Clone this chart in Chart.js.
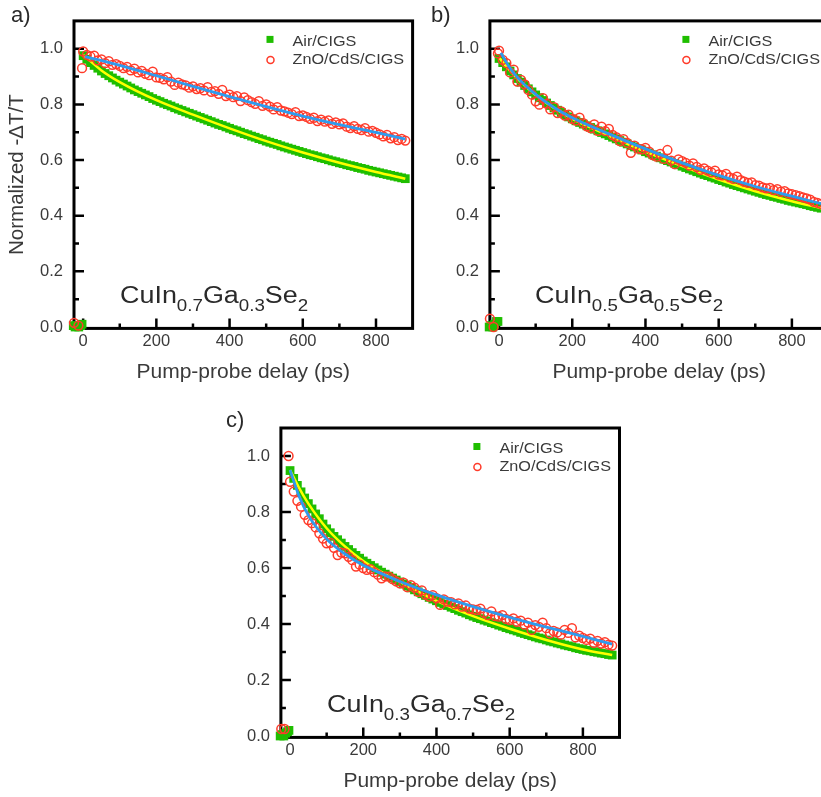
<!DOCTYPE html>
<html>
<head>
<meta charset="utf-8">
<script src="https://cdn.jsdelivr.net/npm/chart.js@4.4.0/dist/chart.umd.min.js"></script>
<style>
  html, body { margin: 0; padding: 0; background: #fff; overflow: hidden; width: 821px; height: 797px; }
  body { position: relative; font-family: "Liberation Sans", Arial, sans-serif; color: #2a2a2a; }
  canvas { position: absolute; }
  .tag { position: absolute; font-size: 22px; line-height: 1; }
  .formula { position: absolute; font-size: 23px; line-height: 1; white-space: nowrap; transform-origin: 0 0; transform: scaleX(1.17); }
  .formula sub { font-size: 16px; vertical-align: -8px; line-height: 0; }
</style>
</head>
<body>
<canvas id="chartA" width="420" height="404" style="left:0px;top:0px"></canvas>
<canvas id="chartB" width="420" height="404" style="left:420px;top:0px"></canvas>
<canvas id="chartC" width="420" height="404" style="left:210px;top:400px"></canvas>

<div class="tag" style="left:11px;top:4px">a)</div>
<div class="tag" style="left:431px;top:4px">b)</div>
<div class="tag" style="left:226px;top:409px">c)</div>

<div class="formula" style="left:120px;top:284px">CuIn<sub>0.7</sub>Ga<sub>0.3</sub>Se<sub>2</sub></div>
<div class="formula" style="left:535px;top:284px">CuIn<sub>0.5</sub>Ga<sub>0.5</sub>Se<sub>2</sub></div>
<div class="formula" style="left:327px;top:693px">CuIn<sub>0.3</sub>Ga<sub>0.7</sub>Se<sub>2</sub></div>

<script>
// ---- data ----
const xTicks = [0, 200, 400, 600, 800];
const xMinor = [100, 300, 500, 700];
const yTicks = [0, 0.2, 0.4, 0.6, 0.8, 1.0];
const yMinor = [0.1, 0.3, 0.5, 0.7, 0.9];

// sampling delays (ps) of the measured traces
const delays = [0, 10, 20, 30, 40, 50, 60, 70, 80, 90, 100, 110, 120, 130, 140, 150, 160, 170, 180, 190,
    200, 210, 220, 230, 240, 250, 260, 270, 280, 290, 300, 310, 320, 330, 340, 350, 360, 370, 380, 390,
    400, 410, 420, 430, 440, 450, 460, 470, 480, 490, 500, 510, 520, 530, 540, 550, 560, 570, 580, 590,
    600, 610, 620, 630, 640, 650, 660, 670, 680, 690, 700, 710, 720, 730, 740, 750, 760, 770, 780, 790,
    800, 810, 820, 830, 840, 850, 860, 870, 880];

// points before time zero
const preAirX = [-27, -22, -17, -12, -7, -3];
const preAirA = [0.005, 0.0, 0.005, 0.0, 0.005, 0.01];
const preAirB = [0.0, 0.005, 0.0, 0.01, 0.02, 0.02];
const preAirC = [0.0, 0.005, 0.0, 0.01, 0.015, 0.02];
const preZnoXA = [-25, -13, -3];
const preZnoA = [0.015, 0.005, 0.93];
const preZnoXB = [-25, -15, -3];
const preZnoB = [0.03, 0.0, 0.983];
const preZnoXC = [-24, -15, -4];
const preZnoC = [0.025, 0.025, 1.0];

// panel a) CuIn0.7Ga0.3Se2
const airA = [0.975, 0.962, 0.950, 0.940, 0.930, 0.920, 0.911, 0.903, 0.895, 0.887, 0.880,
    0.873, 0.866, 0.859, 0.852, 0.846, 0.840, 0.834, 0.828, 0.821, 0.815,
    0.810, 0.804, 0.799, 0.794, 0.788, 0.783, 0.778, 0.773, 0.768, 0.763,
    0.758, 0.753, 0.748, 0.743, 0.738, 0.733, 0.728, 0.724, 0.719, 0.714,
    0.709, 0.705, 0.700, 0.695, 0.691, 0.686, 0.682, 0.677, 0.673, 0.668,
    0.664, 0.660, 0.656, 0.651, 0.647, 0.643, 0.639, 0.635, 0.631, 0.627,
    0.623, 0.619, 0.616, 0.612, 0.608, 0.605, 0.601, 0.597, 0.594, 0.590,
    0.587, 0.583, 0.580, 0.577, 0.573, 0.570, 0.567, 0.563, 0.560, 0.557,
    0.554, 0.551, 0.548, 0.545, 0.542, 0.539, 0.536, 0.533];
const znoA = [0.990, 0.978, 0.972, 0.975, 0.958, 0.962, 0.948, 0.955, 0.942, 0.945, 0.938,
    0.930, 0.935, 0.922, 0.928, 0.915, 0.920, 0.910, 0.905, 0.918, 0.897,
    0.895, 0.890, 0.898, 0.882, 0.870, 0.878, 0.872, 0.868, 0.860, 0.865,
    0.855, 0.858, 0.850, 0.862, 0.845, 0.848, 0.838, 0.852, 0.830, 0.835,
    0.826, 0.830, 0.812, 0.825, 0.815, 0.808, 0.802, 0.812, 0.795, 0.800,
    0.792, 0.782, 0.790, 0.778, 0.775, 0.770, 0.765, 0.772, 0.758, 0.760,
    0.755, 0.748, 0.752, 0.740, 0.745, 0.738, 0.742, 0.730, 0.735, 0.728,
    0.732, 0.720, 0.715, 0.722, 0.712, 0.708, 0.715, 0.702, 0.705, 0.698,
    0.692, 0.685, 0.690, 0.678, 0.682, 0.672, 0.676, 0.670];
const fitAirXA = [0, 50, 100, 200, 300, 400, 500, 600, 700, 800, 880];
const fitAirA = [0.978, 0.922, 0.880, 0.815, 0.763, 0.714, 0.668, 0.627, 0.590, 0.557, 0.533];
const fitZnoXA = [5, 100, 200, 300, 400, 500, 600, 700, 800, 880];
const fitZnoA = [0.972, 0.940, 0.903, 0.865, 0.828, 0.792, 0.758, 0.727, 0.699, 0.675];

// panel b) CuIn0.5Ga0.5Se2
const airB = [0.965, 0.950, 0.935, 0.920, 0.906, 0.893, 0.880, 0.868, 0.856, 0.845, 0.834,
    0.824, 0.814, 0.805, 0.796, 0.787, 0.779, 0.771, 0.763, 0.755, 0.748,
    0.741, 0.735, 0.729, 0.723, 0.717, 0.711, 0.705, 0.699, 0.694, 0.688,
    0.682, 0.676, 0.670, 0.664, 0.658, 0.652, 0.647, 0.641, 0.636, 0.630,
    0.625, 0.619, 0.614, 0.608, 0.603, 0.598, 0.593, 0.588, 0.583, 0.578,
    0.573, 0.568, 0.563, 0.558, 0.553, 0.548, 0.544, 0.539, 0.535, 0.530,
    0.526, 0.521, 0.517, 0.512, 0.508, 0.504, 0.500, 0.496, 0.492, 0.488,
    0.484, 0.480, 0.476, 0.473, 0.469, 0.466, 0.462, 0.459, 0.455, 0.452,
    0.449, 0.446, 0.443, 0.440, 0.436, 0.433, 0.430, 0.427];
const znoB = [0.993, 0.960, 0.948, 0.915, 0.925, 0.882, 0.888, 0.872, 0.852, 0.835, 0.811,
    0.799, 0.822, 0.803, 0.782, 0.790, 0.769, 0.775, 0.760, 0.763, 0.748,
    0.742, 0.752, 0.733, 0.721, 0.715, 0.728, 0.705, 0.720, 0.704, 0.712,
    0.690, 0.682, 0.668, 0.675, 0.662, 0.626, 0.652, 0.641, 0.638, 0.644,
    0.630, 0.618, 0.612, 0.622, 0.604, 0.636, 0.598, 0.585, 0.602, 0.596,
    0.590, 0.580, 0.588, 0.575, 0.565, 0.570, 0.562, 0.556, 0.562, 0.548,
    0.545, 0.550, 0.538, 0.532, 0.540, 0.528, 0.522, 0.518, 0.520, 0.510,
    0.508, 0.502, 0.498, 0.500, 0.492, 0.495, 0.486, 0.488, 0.480, 0.477,
    0.474, 0.470, 0.466, 0.462, 0.458, 0.450, 0.446, 0.442];
const fitAirXB = [0, 25, 50, 100, 150, 200, 300, 400, 500, 600, 700, 800, 880];
const fitAirB = [0.968, 0.928, 0.893, 0.834, 0.787, 0.748, 0.688, 0.630, 0.578, 0.530, 0.488, 0.452, 0.427];
const fitZnoXB = [5, 25, 50, 100, 150, 200, 300, 400, 500, 600, 700, 800, 880];
const fitZnoB = [0.985, 0.940, 0.897, 0.836, 0.789, 0.752, 0.694, 0.640, 0.590, 0.545, 0.505, 0.470, 0.443];

// panel c) CuIn0.3Ga0.7Se2
const airC = [0.948, 0.920, 0.895, 0.872, 0.850, 0.830, 0.811, 0.793, 0.776, 0.757, 0.740,
    0.726, 0.713, 0.701, 0.689, 0.677, 0.666, 0.655, 0.645, 0.635, 0.625,
    0.617, 0.609, 0.601, 0.593, 0.585, 0.578, 0.571, 0.564, 0.557, 0.550,
    0.543, 0.536, 0.529, 0.522, 0.515, 0.508, 0.502, 0.495, 0.489, 0.483,
    0.477, 0.471, 0.466, 0.460, 0.455, 0.449, 0.444, 0.439, 0.433, 0.428,
    0.423, 0.419, 0.414, 0.410, 0.405, 0.401, 0.396, 0.392, 0.387, 0.383,
    0.379, 0.375, 0.370, 0.366, 0.362, 0.358, 0.354, 0.350, 0.347, 0.343,
    0.339, 0.336, 0.332, 0.329, 0.325, 0.322, 0.319, 0.315, 0.312, 0.309,
    0.306, 0.304, 0.301, 0.299, 0.296, 0.294, 0.291, 0.289];
const znoC = [0.908, 0.873, 0.840, 0.819, 0.790, 0.771, 0.760, 0.745, 0.724, 0.705, 0.688,
    0.690, 0.672, 0.646, 0.655, 0.652, 0.640, 0.628, 0.605, 0.612, 0.600,
    0.593, 0.596, 0.585, 0.576, 0.563, 0.570, 0.569, 0.560, 0.552, 0.545,
    0.548, 0.532, 0.539, 0.530, 0.515, 0.520, 0.505, 0.498, 0.503, 0.492,
    0.468, 0.488, 0.480, 0.478, 0.470, 0.474, 0.462, 0.466, 0.455, 0.452,
    0.450, 0.455, 0.440, 0.432, 0.445, 0.428, 0.426, 0.432, 0.418, 0.414,
    0.420, 0.408, 0.412, 0.398, 0.405, 0.379, 0.396, 0.390, 0.405, 0.385,
    0.367, 0.375, 0.370, 0.362, 0.379, 0.368, 0.385, 0.352, 0.358, 0.350,
    0.343, 0.348, 0.333, 0.340, 0.330, 0.335, 0.326, 0.323];
const fitAirXC = [0, 25, 50, 100, 150, 200, 250, 300, 400, 500, 600, 700, 800, 880];
const fitAirC = [0.950, 0.885, 0.830, 0.742, 0.677, 0.625, 0.585, 0.550, 0.483, 0.428, 0.383, 0.343, 0.309, 0.289];
const fitZnoXC = [0, 25, 50, 100, 150, 200, 250, 300, 400, 500, 600, 700, 800, 880];
const fitZnoC = [0.950, 0.855, 0.788, 0.703, 0.650, 0.610, 0.580, 0.552, 0.504, 0.462, 0.424, 0.389, 0.356, 0.328];

// ---- drawing ----
const FONT = '"Liberation Sans", Arial, sans-serif';
const TEXT = '#3a3a3a';
const GREEN = '#1fbe00';
const RED = '#ff3b2a';
const YELLOW = '#ffff00';
const BLUE = '#2e9bee';
const CANVAS_W = 420, CANVAS_H = 404, XAXIS_H = 66.6;

function pairs(xs, ys) {
    return xs.map((x, i) => ({ x: x, y: ys[i] }));
}

// frame with inward ticks, drawn under the data
const framePlugin = {
    id: 'frame',
    beforeDatasetsDraw(chart) {
        const { ctx, chartArea: a, scales: { x, y } } = chart;
        ctx.save();
        ctx.strokeStyle = '#000';
        ctx.lineWidth = 2.5;
        ctx.beginPath();
        yTicks.forEach(v => { const p = y.getPixelForValue(v); ctx.moveTo(a.left, p); ctx.lineTo(a.left + 10, p); });
        yMinor.forEach(v => { const p = y.getPixelForValue(v); ctx.moveTo(a.left, p); ctx.lineTo(a.left + 5, p); });
        xTicks.forEach(v => { const p = x.getPixelForValue(v); ctx.moveTo(p, a.bottom); ctx.lineTo(p, a.bottom - 10); });
        xMinor.forEach(v => { const p = x.getPixelForValue(v); ctx.moveTo(p, a.bottom); ctx.lineTo(p, a.bottom - 5); });
        ctx.stroke();
        ctx.lineWidth = 3;
        ctx.strokeRect(a.left, a.top, a.right - a.left, a.bottom - a.top);
        ctx.restore();
    },
    afterDraw(chart) {
        // legend in the upper right corner
        const { ctx, chartArea: a } = chart;
        ctx.save();
        ctx.fillStyle = GREEN;
        ctx.fillRect(a.left + 192.5, a.top + 15, 7, 7);
        ctx.strokeStyle = RED;
        ctx.lineWidth = 1.5;
        ctx.beginPath();
        ctx.arc(a.left + 196.5, a.top + 39, 3.5, 0, Math.PI * 2);
        ctx.stroke();
        ctx.fillStyle = TEXT;
        ctx.font = '15px ' + FONT;
        ctx.textBaseline = 'middle';
        [['Air/CIGS', 21], ['ZnO/CdS/CIGS', 38.7]].forEach(([t, dy]) => {
            ctx.save();
            ctx.translate(a.left + 218.5, a.top + dy);
            ctx.scale(1.08, 1);
            ctx.fillText(t, 0, 0);
            ctx.restore();
        });
        ctx.restore();
    }
};

function makePanel(id, pos, area, d, yTitle) {
    new Chart(document.getElementById(id), {
        type: 'scatter',
        data: {
            datasets: [
                {
                    data: pairs(d.fitZnoX, d.fitZno), showLine: true, pointRadius: 0,
                    borderColor: BLUE, borderWidth: 2.8, cubicInterpolationMode: 'monotone'
                },
                {
                    data: pairs(d.preZnoX, d.preZno).concat(pairs(delays, d.zno)),
                    pointStyle: 'circle', pointRadius: 4.4, borderColor: RED,
                    backgroundColor: 'rgba(255,255,255,0)', borderWidth: 1.5, clip: false
                },
                {
                    data: pairs(d.fitAirX, d.fitAir), showLine: true, pointRadius: 0,
                    borderColor: YELLOW, borderWidth: 2.5, cubicInterpolationMode: 'monotone'
                },
                {
                    data: pairs(preAirX, d.preAir).concat(pairs(delays, d.air)),
                    pointStyle: 'rect', pointRadius: 6.2, backgroundColor: GREEN,
                    borderWidth: 0, clip: false
                }
            ]
        },
        options: {
            responsive: false,
            animation: false,
            events: [],
            layout: {
                padding: {
                    left: 0,
                    top: area.top - pos.top,
                    right: pos.left + CANVAS_W - area.right,
                    bottom: pos.top + CANVAS_H - area.bottom - XAXIS_H
                }
            },
            plugins: { legend: { display: false }, tooltip: { enabled: false } },
            scales: {
                x: {
                    type: 'linear', min: -25, max: 900,
                    grid: { display: false, drawTicks: false },
                    border: { display: false },
                    afterBuildTicks: s => { s.ticks = xTicks.map(v => ({ value: v })); },
                    afterFit: s => { s.height = XAXIS_H; },
                    ticks: { font: { family: FONT, size: 16.5 }, color: TEXT, padding: 3, maxRotation: 0, autoSkip: false },
                    title: {
                        display: true, text: 'Pump-probe delay (ps)',
                        font: { family: FONT, size: 21 }, color: TEXT, padding: { top: 0, bottom: 10 }
                    }
                },
                y: {
                    type: 'linear', min: -0.005, max: 1.1,
                    grid: { display: false, drawTicks: false },
                    border: { display: false },
                    afterBuildTicks: s => { s.ticks = yTicks.map(v => ({ value: v })); },
                    afterFit: s => { s.width = area.left - pos.left; },
                    ticks: {
                        font: { family: FONT, size: 16.5 }, color: TEXT, padding: 11, autoSkip: false,
                        callback: v => v.toFixed(1)
                    },
                    title: {
                        display: yTitle, text: 'Normalized -ΔT/T',
                        font: { family: FONT, size: 20.5 }, color: TEXT, padding: { top: 5, bottom: 0 }
                    }
                }
            }
        },
        plugins: [framePlugin]
    });
}

makePanel('chartA', { left: 0, top: 0 }, { left: 74, top: 19, right: 412.6, bottom: 328.4 }, {
    air: airA, zno: znoA, preAir: preAirA, preZnoX: preZnoXA, preZno: preZnoA,
    fitAirX: fitAirXA, fitAir: fitAirA, fitZnoX: fitZnoXA, fitZno: fitZnoA
}, true);

makePanel('chartB', { left: 420, top: 0 }, { left: 489.9, top: 19, right: 828.5, bottom: 328.4 }, {
    air: airB, zno: znoB, preAir: preAirB, preZnoX: preZnoXB, preZno: preZnoB,
    fitAirX: fitAirXB, fitAir: fitAirB, fitZnoX: fitZnoXB, fitZno: fitZnoB
}, false);

makePanel('chartC', { left: 210, top: 400 }, { left: 280.9, top: 428, right: 619.5, bottom: 737.4 }, {
    air: airC, zno: znoC, preAir: preAirC, preZnoX: preZnoXC, preZno: preZnoC,
    fitAirX: fitAirXC, fitAir: fitAirC, fitZnoX: fitZnoXC, fitZno: fitZnoC
}, false);
</script>
</body>
</html>
